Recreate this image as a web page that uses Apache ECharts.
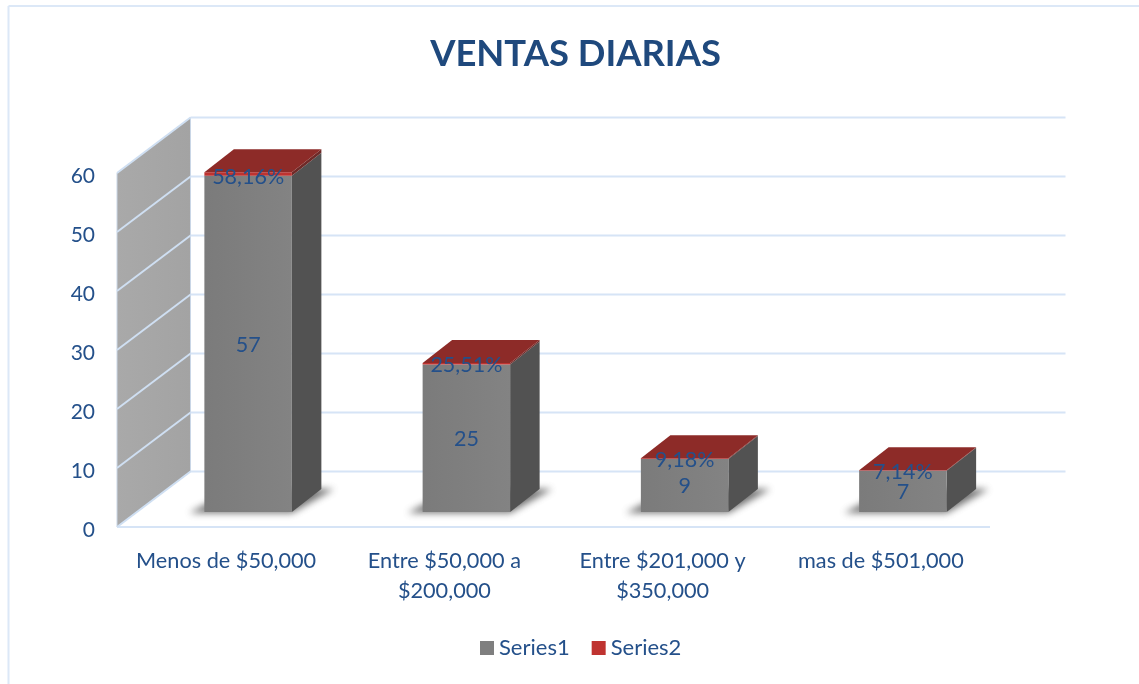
<!DOCTYPE html>
<html><head><meta charset="utf-8">
<style>html,body{margin:0;padding:0;background:#fff}#c{width:1139px;height:684px}</style>
<script src="https://cdn.jsdelivr.net/npm/echarts@6/dist/echarts.min.js"></script>
</head><body><div id="c"></div>
<script>
const categories = ['Menos de $50,000', 'Entre $50,000 a\n$200,000', 'Entre $201,000 y\n$350,000', 'mas de $501,000'];
const series1 = [57, 25, 9, 7];
const series2 = [0.5816, 0.2551, 0.0918, 0.0714];
const yTicks = [0, 10, 20, 30, 40, 50, 60];

const INK = '#24508a', LINE = '#d6e4f6', FONT = 'Lato, "Noto Sans", sans-serif';
const WALL_DX = 73.5, WALL_DY = -55.5;       // depth of the chart box
const BAR_DX = 22, BAR_DY = -15;             // where bars stand on the floor
const BAR_W = 87.5, DEPTH_X = 29.5, DEPTH_Y = -23;
const SHADOW_SHIFT = 3000;                   // only the blurred shadow of the floor polygon is seen

function poly(points, style, extra) {
  return Object.assign({ type: 'polygon', shape: { points }, style, silent: true }, extra || {});
}
function line(x1, y1, x2, y2, stroke, lw) {
  return { type: 'line', shape: { x1, y1, x2, y2 }, style: { stroke, lineWidth: lw || 2 }, silent: true };
}
function label(text, x, y) {
  return { type: 'text', x, y, z2: 50, silent: true,
    style: { text, fill: INK, font: '21.5px ' + FONT, align: 'center', verticalAlign: 'middle' } };
}
const linear = (x, y, x2, y2, a, b) => ({ type: 'linear', x, y, x2, y2,
  colorStops: [{ offset: 0, color: a }, { offset: 1, color: b }] });

function renderWall(params, api) {
  const t = api.value(1);
  const g = params.coordSys;
  const y = api.coord([0, t])[1];
  const left = g.x, right = g.x + g.width;
  const kids = [];
  if (params.dataIndex === 0) {
    const y0 = y, y60 = api.coord([0, yTicks[yTicks.length - 1]])[1];
    kids.push(poly([[left, y60], [left + WALL_DX, y60 + WALL_DY], [left + WALL_DX, y0 + WALL_DY], [left, y0]],
      { fill: linear(0, 0, 1, 0, '#a9a9a9', '#a3a3a3'), stroke: '#c9d6e6', lineWidth: 1 }));
    kids.push(line(left, y, right, y, LINE, 2));
  }
  kids.push(line(left + WALL_DX, y + WALL_DY, right + WALL_DX + 2, y + WALL_DY, LINE, 2));
  kids.push(line(left, y, left + WALL_DX, y + WALL_DY, '#cfdff2', 2));
  return { type: 'group', children: kids };
}

function renderSeries1(params, api) {
  const i = api.value(0), v = api.value(1);
  const p0 = api.coord([i, 0]), p1 = api.coord([i, v]);
  const xl = p0[0] + BAR_DX - BAR_W / 2, xr = xl + BAR_W;
  const yb = p0[1] + BAR_DY, yt = p1[1] + BAR_DY;
  const s = SHADOW_SHIFT;
  const kids = [
    poly([[xl - 15 - s, yb + 1], [xr - s, yb + 1], [xr + 42 - s, yb - 23], [xl + 30 - s, yb - 23]],
      { fill: '#666', shadowBlur: 7, shadowColor: 'rgba(80,80,80,0.8)', shadowOffsetX: s }),
    poly([[xr, yt], [xr + DEPTH_X, yt + DEPTH_Y], [xr + DEPTH_X, yb + DEPTH_Y], [xr, yb]], { fill: '#525252' }),
    poly([[xl, yt], [xr, yt], [xr, yb], [xl, yb]], { fill: linear(0, 0, 1, 0, '#7b7b7b', '#838383') })
  ];
  kids.push(label(String(v), (xl + xr) / 2, (yt + yb) / 2 + 1));
  return { type: 'group', children: kids };
}

function renderSeries2(params, api) {
  const i = api.value(0), v = api.value(1);
  const base = series1[i];
  const p0 = api.coord([i, base]), p1 = api.coord([i, base + v]);
  const xl = p0[0] + BAR_DX - BAR_W / 2, xr = xl + BAR_W;
  const yb = p0[1] + BAR_DY, yt = p1[1] + BAR_DY;
  const text = (v * 100).toFixed(2).replace('.', ',') + '%';
  return { type: 'group', children: [
    poly([[xr, yt], [xr + DEPTH_X, yt + DEPTH_Y], [xr + DEPTH_X, yb + DEPTH_Y], [xr, yb]], { fill: '#6e2a28' }),
    poly([[xl, yb], [xr, yb], [xr, yt], [xl, yt]], { fill: '#bf3330' }),
    poly([[xl, yt], [xr, yt], [xr + DEPTH_X, yt + DEPTH_Y], [xl + DEPTH_X, yt + DEPTH_Y]], { fill: '#8d2b28' }),
    label(text, (xl + xr) / 2, yb + 1)
  ] };
}

const chart = echarts.init(document.getElementById('c'), null, { renderer: 'canvas' });
chart.setOption({
  animation: false,
  backgroundColor: '#fff',
  textStyle: { fontFamily: FONT },
  title: { text: 'VENTAS DIARIAS', left: 570.5, top: 31, textAlign: 'center',
    textStyle: { color: '#1f497d', fontFamily: FONT, fontWeight: 'bold', fontSize: 36.4 } },
  legend: { data: ['Series1', 'Series2'], left: 475, top: 632, icon: 'rect', itemWidth: 14, itemHeight: 14, itemGap: 22,
    textStyle: { color: INK, fontFamily: FONT, fontSize: 22, padding: [0, 0, 0, 0] } },
  grid: { left: 117, right: 149, top: 173, bottom: 157 },
  xAxis: { type: 'category', data: categories, axisLine: { show: false }, axisTick: { show: false },
    axisLabel: { color: INK, fontFamily: FONT, fontSize: 21.7, margin: 19, lineHeight: 30, interval: 0 } },
  yAxis: { type: 'value', min: 0, max: 60, interval: 10, axisLine: { show: false }, axisTick: { show: false },
    splitLine: { show: false },
    axisLabel: { color: INK, fontFamily: FONT, fontSize: 21, margin: 22, formatter: '{t|{value}}',
      rich: { t: { color: INK, fontFamily: FONT, fontSize: 21, padding: [6, 0, 0, 0] } } } },
  graphic: [
    { type: 'line', shape: { x1: 8.5, y1: 6, x2: 1139, y2: 6 }, style: { stroke: '#dce8f7', lineWidth: 2 }, silent: true },
    { type: 'line', shape: { x1: 8.5, y1: 6, x2: 8.5, y2: 684 }, style: { stroke: '#dce8f7', lineWidth: 2 }, silent: true }
  ],
  series: [
    { name: 'wall', type: 'custom', data: yTicks.map(t => [0, t]), renderItem: renderWall, clip: false,
      encode: { x: 0, y: 1 }, silent: true, z: 1 },
    { name: 'Series1', type: 'custom', data: series1.map((v, i) => [i, v]), renderItem: renderSeries1, clip: false,
      encode: { x: 0, y: 1 }, itemStyle: { color: '#7f7f7f' }, z: 2 },
    { name: 'Series2', type: 'custom', data: series2.map((v, i) => [i, v]), renderItem: renderSeries2, clip: false,
      encode: { x: 0, y: 1 }, itemStyle: { color: '#bf3330' }, z: 3 }
  ]
});
</script></body></html>
